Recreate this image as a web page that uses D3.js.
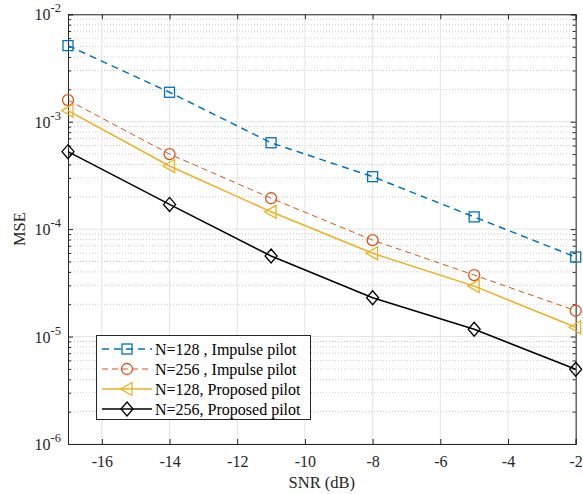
<!DOCTYPE html>
<html><head><meta charset="utf-8">
<script src="https://cdn.jsdelivr.net/npm/d3@7"></script>
<style>body{margin:0;background:#fff}svg{display:block}text{font-family:"Liberation Serif","Times New Roman",serif}</style>
</head><body><svg id="c" width="583" height="494"></svg>
<script>
const snr = [-17, -14, -11, -8, -5, -2];
const imp128 = [5.11e-3, 1.88e-3, 6.37e-4, 3.08e-4, 1.30e-4, 5.5e-5];
const imp256 = [1.59e-3, 5.0e-4, 1.94e-4, 7.9e-5, 3.74e-5, 1.74e-5];
const prop128 = [1.27e-3, 3.87e-4, 1.45e-4, 5.96e-5, 2.95e-5, 1.22e-5];
const prop256 = [5.26e-4, 1.70e-4, 5.62e-5, 2.30e-5, 1.17e-5, 4.96e-6];
const xTicks = [-16, -14, -12, -10, -8, -6, -4, -2];
const yExps = [-6, -5, -4, -3, -2];
const seriesNames = ["N=128 , Impulse pilot", "N=256 , Impulse pilot", "N=128, Proposed pilot", "N=256, Proposed pilot"];

const series = [
  {name: seriesNames[0], vals: imp128, color: "#0072BD", dash: "7,5", w: 1.5, marker: "square"},
  {name: seriesNames[1], vals: imp256, color: "#D95319", dash: "6,4", w: 1, marker: "circle"},
  {name: seriesNames[2], vals: prop128, color: "#EDB120", dash: null, w: 1.5, marker: "triangle"},
  {name: seriesNames[3], vals: prop256, color: "#000000", dash: null, w: 1.5, marker: "diamond"}
];

const L = 68, R = 575.7, T = 14.3, B = 444;
const svg = d3.select("#c");
const x = d3.scaleLinear().domain([-17, -2]).range([L, R]);
const y = d3.scaleLog().domain([1e-6, 1e-2]).range([B, T]);

const axisCol = "#262626";
const minor = [];
for (let e = -6; e < -2; e++) for (let k = 2; k <= 9; k++) minor.push(k * Math.pow(10, e));
const g = svg.append("g");
g.selectAll(".mg").data(minor).join("line")
  .attr("x1", L).attr("x2", R).attr("y1", d => y(d)).attr("y2", d => y(d))
  .attr("stroke", "#c8c8c8").attr("stroke-width", 1).attr("stroke-dasharray", "1,2");
g.selectAll(".xg").data(xTicks).join("line")
  .attr("x1", d => x(d)).attr("x2", d => x(d)).attr("y1", T).attr("y2", B)
  .attr("stroke", "#e3e3e3").attr("stroke-width", 1);
g.selectAll(".yg").data(yExps).join("line")
  .attr("x1", L).attr("x2", R).attr("y1", d => y(Math.pow(10, d))).attr("y2", d => y(Math.pow(10, d)))
  .attr("stroke", "#e3e3e3").attr("stroke-width", 1);

const xb = d3.axisBottom(x).tickValues(xTicks).tickSize(-5).tickFormat(d => d);
const xt = d3.axisTop(x).tickValues(xTicks).tickSize(-5).tickFormat("");
const yTickVals = yExps.map(e => Math.pow(10, e));
const yl = d3.axisLeft(y).tickValues(yTickVals).tickSize(-5).tickFormat("");
const yr = d3.axisRight(y).tickValues(yTickVals).tickSize(-5).tickFormat("");
const ylm = d3.axisLeft(y).tickValues(minor).tickSize(-3).tickFormat("");
const yrm = d3.axisRight(y).tickValues(minor).tickSize(-3).tickFormat("");
function style(sel) {
  sel.select(".domain").attr("stroke", axisCol);
  sel.selectAll(".tick line").attr("stroke", axisCol);
}
const gx = svg.append("g").attr("transform", `translate(0,${B})`).call(xb).call(style);
gx.selectAll(".tick text").attr("font-size", 16).attr("fill", axisCol).attr("dy", 0).attr("font-family", "Liberation Serif").attr("y", 23);
svg.append("g").attr("transform", `translate(0,${T})`).call(xt).call(style);
svg.append("g").attr("transform", `translate(${L},0)`).call(yl).call(style);
svg.append("g").attr("transform", `translate(${R},0)`).call(yr).call(style);
svg.append("g").attr("transform", `translate(${L},0)`).call(ylm).call(style).select(".domain").remove();
svg.append("g").attr("transform", `translate(${R},0)`).call(yrm).call(style).select(".domain").remove();

yExps.forEach(e => {
  const t = svg.append("text").attr("x", L - 7).attr("y", y(Math.pow(10, e)) + 6)
    .attr("text-anchor", "end").attr("font-size", 16).attr("fill", axisCol);
  t.append("tspan").text("10");
  t.append("tspan").text(String(e)).attr("font-size", 12.5).attr("dy", -8);
});

svg.append("text").attr("x", (L + R) / 2).attr("y", 488).attr("text-anchor", "middle")
  .attr("font-size", 16.5).attr("fill", axisCol).text("SNR (dB)");
svg.append("text").attr("transform", `translate(25,${(T + B) / 2}) rotate(-90)`).attr("text-anchor", "middle")
  .attr("font-size", 16.5).attr("fill", axisCol).text("MSE");

function drawMarker(sel, type, cx, cy, color) {
  if (type === "square") sel.append("rect").attr("x", cx - 5).attr("y", cy - 5).attr("width", 10).attr("height", 10);
  else if (type === "circle") sel.append("circle").attr("cx", cx).attr("cy", cy).attr("r", 5.5);
  else if (type === "triangle") sel.append("path").attr("d", `M${cx - 6.5},${cy} L${cx + 5},${cy - 6.5} L${cx + 5},${cy + 6.5} Z`);
  else if (type === "diamond") sel.append("path").attr("d", `M${cx},${cy - 7} L${cx + 6},${cy} L${cx},${cy + 7} L${cx - 6},${cy} Z`);
  sel.selectAll("*").attr("fill", "none").attr("stroke", color).attr("stroke-width", 1.3);
}

const line = d3.line().x((d, i) => x(snr[i])).y(d => y(d));
series.forEach(s => {
  svg.append("path").attr("d", line(s.vals)).attr("fill", "none").attr("stroke", s.color)
    .attr("stroke-width", s.w).attr("stroke-dasharray", s.dash);
  s.vals.forEach((v, i) => drawMarker(svg.append("g"), s.marker, x(snr[i]), y(v), s.color));
});

const lg = svg.append("g");
lg.append("rect").attr("x", 96.5).attr("y", 335.5).attr("width", 214).attr("height", 84)
  .attr("fill", "#fff").attr("stroke", axisCol).attr("stroke-width", 1);
series.forEach((s, i) => {
  const yy = 349 + i * 20;
  lg.append("line").attr("x1", 102).attr("x2", 152).attr("y1", yy).attr("y2", yy)
    .attr("stroke", s.color).attr("stroke-width", s.w).attr("stroke-dasharray", s.dash);
  drawMarker(lg.append("g"), s.marker, 127, yy, s.color);
  lg.append("text").attr("x", 155).attr("y", yy + 5.5).attr("font-size", 16).attr("fill", "#000").text(s.name);
});
</script></body></html>
